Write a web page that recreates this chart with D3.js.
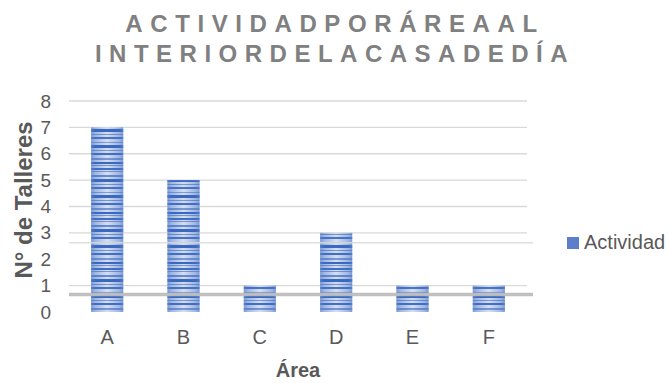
<!DOCTYPE html>
<html>
<head>
<meta charset="utf-8">
<script src="https://cdn.jsdelivr.net/npm/d3@7"></script>
<style>
  html, body { margin: 0; padding: 0; background: #fff; }
  svg { display: block; font-family: "Liberation Sans", Arial, sans-serif; }
</style>
</head>
<body>
<svg id="chart" width="670" height="383"></svg>
<script>
// Data
const areas = ["A", "B", "C", "D", "E", "F"];
const talleres = [7, 5, 1, 3, 1, 1];
const yTicks = [0, 1, 2, 3, 4, 5, 6, 7, 8];
const gridValues = [8, 7, 6, 5, 4, 3, 1];
const overlayLines = [2.63, 0.66];
const titleLines = ["ACTIVIDADPORÁREAAL", "INTERIORDELACASADEDÍA"];
const seriesName = "Actividad";

const svg = d3.select("#chart");
const plot = { left: 69, right: 527, top: 101, bottom: 312 };

const x = d3.scaleBand().domain(areas).range([plot.left, plot.right]).paddingInner(0.58).paddingOuter(0.29);
const y = d3.scaleLinear().domain([0, 8]).range([plot.bottom, plot.top]);

// Striped bar fill: a horizontal shade with irregular blue stripes on top
const defs = svg.append("defs");
const shade = defs.append("linearGradient").attr("id", "shade").attr("x1", 0).attr("x2", 1).attr("y1", 0).attr("y2", 0);
shade.append("stop").attr("offset", 0).attr("stop-color", "#8fa9db");
shade.append("stop").attr("offset", 0.5).attr("stop-color", "#d5def1");
shade.append("stop").attr("offset", 1).attr("stop-color", "#8fa9db");

const stripes = [
  [0, 2, 1], [3, 1, 0.6], [6, 2, 0.95], [9, 1, 0.6], [13, 2, 0.7],
  [17, 3, 1], [22, 1, 0.6], [25, 2, 0.9], [30, 1, 0.55], [33, 3, 1],
  [38, 1, 0.6], [41, 2, 0.95], [46, 2, 0.6]
];
const pat = defs.append("pattern").attr("id", "stripes")
  .attr("patternUnits", "userSpaceOnUse").attr("width", 670).attr("height", 50)
  .attr("y", plot.bottom);
pat.selectAll("rect").data(stripes).join("rect")
  .attr("x", 0).attr("width", 670)
  .attr("y", d => d[0]).attr("height", d => d[1])
  .attr("fill", "#3a69c2").attr("fill-opacity", d => d[2]);

const edge = defs.append("linearGradient").attr("id", "edge").attr("x1", 0).attr("x2", 1);
edge.append("stop").attr("offset", 0).attr("stop-color", "#6d8fcf").attr("stop-opacity", 0.5);
edge.append("stop").attr("offset", 0.12).attr("stop-color", "#6d8fcf").attr("stop-opacity", 0);
edge.append("stop").attr("offset", 0.88).attr("stop-color", "#6d8fcf").attr("stop-opacity", 0);
edge.append("stop").attr("offset", 1).attr("stop-color", "#6d8fcf").attr("stop-opacity", 0.5);

// Title
svg.append("g").selectAll("text").data(titleLines).join("text")
  .attr("x", 335).attr("y", (d, i) => 32 + i * 30)
  .attr("text-anchor", "middle")
  .attr("font-size", 24).attr("font-weight", "bold").attr("fill", "#808080")
  .attr("letter-spacing", (d, i) => i === 0 ? "7.6px" : "7.5px")
  .text(d => d);

// Gridlines
svg.append("g").selectAll("line").data(gridValues).join("line")
  .attr("x1", plot.left).attr("x2", plot.right)
  .attr("y1", d => y(d)).attr("y2", d => y(d))
  .attr("stroke", "#d9d9d9").attr("stroke-width", 1.4);

// Bars
const bars = svg.append("g");
const data = areas.map((a, i) => ({ area: a, value: talleres[i] }));
["url(#shade)", "url(#stripes)", "url(#edge)"].forEach(fill => {
  bars.append("g").selectAll("rect").data(data).join("rect")
    .attr("x", d => x(d.area)).attr("width", x.bandwidth())
    .attr("y", d => y(d.value)).attr("height", d => y(0) - y(d.value))
    .attr("fill", fill);
});

// Lines drawn across the bars
svg.append("g").selectAll("line").data(overlayLines).join("line")
  .attr("x1", plot.left).attr("x2", 533)
  .attr("y1", d => y(d)).attr("y2", d => y(d))
  .attr("stroke", (d, i) => i === 0 ? "#dcdcdc" : "#bdbdbd")
  .attr("stroke-opacity", (d, i) => i === 0 ? 0.9 : 0.95)
  .attr("stroke-width", (d, i) => i === 0 ? 1.5 : 3.5);

// Y axis labels
const yAxis = d3.axisLeft(y).tickValues(yTicks).tickSize(0).tickPadding(0).tickFormat(d3.format("d"));
const gy = svg.append("g").attr("transform", "translate(51,0)").call(yAxis);
gy.select(".domain").remove();
gy.selectAll("text").attr("font-size", 19).attr("fill", "#595959").attr("font-family", "Liberation Sans, Arial, sans-serif");

// X axis labels
const xAxis = d3.axisBottom(x).tickSize(0).tickPadding(0);
const gx = svg.append("g").attr("transform", `translate(0,${plot.bottom + 18})`).call(xAxis);
gx.select(".domain").remove();
gx.selectAll("text").attr("font-size", 20).attr("fill", "#595959").attr("font-family", "Liberation Sans, Arial, sans-serif");

// Axis titles
svg.append("text").attr("x", (plot.left + plot.right) / 2).attr("y", 377)
  .attr("text-anchor", "middle").attr("font-size", 20).attr("font-weight", "bold")
  .attr("fill", "#595959").text("Área");
svg.append("text").attr("transform", "translate(32,200) rotate(-90)")
  .attr("text-anchor", "middle").attr("font-size", 24).attr("font-weight", "bold")
  .attr("fill", "#595959").text("N° de Talleres");

// Legend
const lg = svg.append("g").attr("transform", "translate(567,237)");
lg.append("rect").attr("width", 12).attr("height", 12).attr("fill", "#5b80c9");
lg.append("text").attr("x", 17).attr("y", 12).attr("font-size", 20).attr("fill", "#595959").text(seriesName);
</script>
</body>
</html>
